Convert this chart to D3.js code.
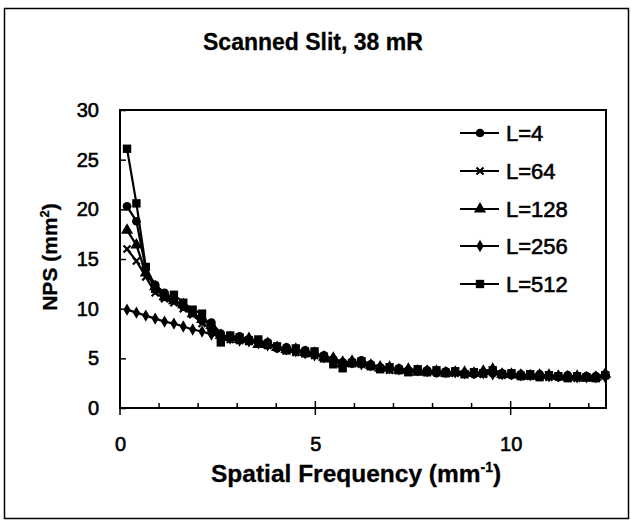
<!DOCTYPE html>
<html>
<head>
<meta charset="utf-8">
<script src="https://cdn.jsdelivr.net/npm/d3@7"></script>
<style>
  body { margin: 0; background: #fff; }
  text { font-family: "Liberation Sans", Arial, Helvetica, sans-serif; fill: #000; }
</style>
</head>
<body>
<div id="chart"></div>
<script>
// spatial frequency samples (mm^-1)
const freq = [0.18, 0.42, 0.66, 0.90, 1.14, 1.38, 1.62, 1.86, 2.10, 2.34,
  2.58, 2.82, 3.06, 3.30, 3.54, 3.78, 4.02, 4.26, 4.50, 4.74,
  4.98, 5.22, 5.46, 5.70, 5.94, 6.18, 6.42, 6.66, 6.90, 7.14,
  7.38, 7.62, 7.86, 8.10, 8.34, 8.58, 8.82, 9.06, 9.30, 9.54,
  9.78, 10.02, 10.26, 10.50, 10.74, 10.98, 11.22, 11.46, 11.70, 11.94,
  12.18, 12.42];

// NPS (mm^2) per series
const npsL4 = [20.3, 18.8, 14.0, 12.4, 11.6, 10.9, 10.2, 9.6, 8.8, 8.6,
  7.5, 7.0, 7.2, 6.9, 6.6, 6.6, 6.0, 6.1, 5.7, 5.8,
  5.4, 5.3, 4.9, 4.6, 4.5, 4.8, 4.4, 4.1, 3.9, 4.0,
  3.8, 3.7, 3.8, 3.5, 3.7, 3.6, 3.5, 3.4, 3.6, 3.5,
  3.5, 3.3, 3.4, 3.3, 3.4, 3.2, 3.1, 3.3, 3.1, 3.2,
  3.2, 3.4];
const npsL64 = [16.0, 14.8, 13.2, 11.6, 11.0, 10.6, 10.0, 9.4, 8.5, 8.1,
  7.0, 6.9, 6.8, 6.7, 6.5, 6.3, 6.2, 5.8, 5.6, 5.7,
  5.3, 5.2, 4.7, 4.4, 4.6, 4.4, 4.2, 4.0, 3.8, 3.9,
  3.7, 3.7, 3.6, 3.6, 3.6, 3.5, 3.4, 3.5, 3.4, 3.6,
  3.3, 3.4, 3.3, 3.2, 3.2, 3.1, 3.2, 3.1, 3.0, 3.1,
  3.1, 3.3];
const npsL128 = [17.9, 16.4, 13.6, 12.2, 11.2, 10.8, 10.4, 9.5, 8.9, 8.3,
  7.3, 7.1, 6.9, 7.0, 6.4, 6.5, 6.1, 5.9, 5.9, 5.6,
  5.5, 5.1, 5.0, 4.5, 4.7, 4.5, 4.3, 4.0, 4.1, 3.8,
  3.9, 3.6, 3.7, 3.7, 3.5, 3.6, 3.6, 3.5, 3.7, 3.9,
  3.4, 3.4, 3.3, 3.2, 3.3, 3.3, 3.2, 3.1, 3.2, 3.0,
  3.1, 3.4];
const npsL256 = [9.9, 9.6, 9.3, 9.0, 8.7, 8.5, 8.2, 7.9, 7.7, 7.4,
  7.2, 7.0, 6.8, 6.7, 6.5, 6.3, 6.1, 5.9, 5.7, 5.5,
  5.3, 5.1, 4.9, 4.7, 4.6, 4.4, 4.3, 4.2, 4.0, 3.9,
  3.9, 3.8, 3.7, 3.7, 3.6, 3.6, 3.5, 3.5, 3.5, 3.4,
  3.4, 3.4, 3.3, 3.3, 3.3, 3.2, 3.2, 3.2, 3.1, 3.1,
  3.1, 3.1];
const npsL512 = [26.1, 20.6, 14.2, 12.0, 11.2, 11.4, 10.6, 9.9, 9.5, 8.0,
  6.6, 7.3, 7.1, 6.8, 6.9, 6.4, 6.2, 5.8, 6.0, 5.5,
  5.7, 5.0, 4.4, 4.0, 4.5, 4.7, 4.2, 3.9, 4.1, 3.8,
  3.6, 3.9, 3.6, 3.8, 3.5, 3.7, 3.4, 3.6, 3.5, 3.8,
  3.4, 3.5, 3.2, 3.4, 3.1, 3.3, 3.2, 3.0, 3.2, 3.1,
  3.0, 3.3];

const seriesNames = ["L=4", "L=64", "L=128", "L=256", "L=512"];
const seriesValues = [npsL4, npsL64, npsL128, npsL256, npsL512];
const seriesMarkers = ["circle", "x", "triangle", "diamond", "square"];

const yTicks = [0, 5, 10, 15, 20, 25, 30];
const xMajorTicks = [0, 5, 10];
const xMinorTicks = [1, 2, 3, 4, 6, 7, 8, 9, 11, 12];

const width = 631, height = 529;
const plot = {left: 120, top: 110, right: 606, bottom: 408};

const svg = d3.select("#chart").append("svg")
  .attr("width", width)
  .attr("height", height);

// outer frame
svg.append("rect")
  .attr("x", 4.5).attr("y", 8.5)
  .attr("width", 624).attr("height", 510)
  .attr("fill", "none").attr("stroke", "#000").attr("stroke-width", 1.5);

const x = d3.scaleLinear().domain([0, 12.44]).range([plot.left, plot.right]);
const y = d3.scaleLinear().domain([0, 30]).range([plot.bottom, plot.top]);

// title
svg.append("text")
  .attr("x", 203).attr("y", 50)
  .attr("font-size", 23).attr("font-weight", "bold")
  .attr("stroke", "#000").attr("stroke-width", 0.3)
  .text("Scanned Slit, 38 mR");

// y axis (ticks pointing inward)
const yAxis = svg.append("g")
  .attr("transform", `translate(${plot.left},0)`)
  .call(d3.axisLeft(y).tickValues(yTicks).tickSizeInner(-6).tickSizeOuter(0).tickPadding(21));
yAxis.select(".domain").remove();
yAxis.selectAll(".tick line").attr("stroke-width", 1.5);
yAxis.selectAll(".tick text")
  .attr("font-size", 20).attr("font-family", null)
  .attr("stroke", "#000").attr("stroke-width", 0.6);

// x axis labels
const xAxis = svg.append("g")
  .attr("transform", `translate(0,${plot.bottom})`)
  .call(d3.axisBottom(x).tickValues(xMajorTicks).tickSize(0).tickPadding(29).tickFormat(d3.format("d")));
xAxis.select(".domain").remove();
xAxis.selectAll(".tick text")
  .attr("font-size", 20).attr("font-family", null)
  .attr("stroke", "#000").attr("stroke-width", 0.6);

// x ticks: minor inward, major crossing the axis
svg.append("g").selectAll("line.minor")
  .data(xMinorTicks).join("line")
  .attr("x1", d => x(d)).attr("x2", d => x(d))
  .attr("y1", plot.bottom).attr("y2", plot.bottom - 5)
  .attr("stroke", "#000").attr("stroke-width", 1.5);
svg.append("g").selectAll("line.major")
  .data(xMajorTicks).join("line")
  .attr("x1", d => x(d)).attr("x2", d => x(d))
  .attr("y1", plot.bottom - 7).attr("y2", plot.bottom + 7)
  .attr("stroke", "#000").attr("stroke-width", 1.5);

// plot frame
svg.append("rect")
  .attr("x", plot.left).attr("y", plot.top)
  .attr("width", plot.right - plot.left).attr("height", plot.bottom - plot.top)
  .attr("fill", "none").attr("stroke", "#000").attr("stroke-width", 2);

// axis titles
const yTitle = svg.append("text")
  .attr("transform", "translate(57,257) rotate(-90)")
  .attr("text-anchor", "middle")
  .attr("font-size", 21).attr("font-weight", "bold")
  .attr("stroke", "#000").attr("stroke-width", 0.3);
yTitle.append("tspan").text("NPS (mm");
yTitle.append("tspan").attr("font-size", 13).attr("dy", -8).text("2");
yTitle.append("tspan").attr("dy", 8).text(")");

const xTitle = svg.append("text")
  .attr("x", 211).attr("y", 482)
  .attr("font-size", 24.5).attr("font-weight", "bold")
  .attr("stroke", "#000").attr("stroke-width", 0.3);
xTitle.append("tspan").text("Spatial Frequency (mm");
xTitle.append("tspan").attr("font-size", 14).attr("dy", -10).text("-1");
xTitle.append("tspan").attr("dy", 10).text(")");

// marker drawing
function drawMarker(sel, kind) {
  if (kind === "x") {
    sel.append("path")
      .attr("d", "M-3.5,-3.5L3.5,3.5M-3.5,3.5L3.5,-3.5")
      .attr("stroke", "#000").attr("stroke-width", 2.2).attr("fill", "none");
    return;
  }
  const types = {circle: [d3.symbolCircle, 60], triangle: [d3.symbolTriangle, 64],
    diamond: [d3.symbolDiamond, 44], square: [d3.symbolSquare, 70]};
  sel.append("path")
    .attr("d", d3.symbol().type(types[kind][0]).size(types[kind][1])())
    .attr("fill", "#000");
}

const line = d3.line()
  .x(d => x(d[0]))
  .y(d => y(d[1]));

const plotG = svg.append("g");
seriesValues.forEach((vals, i) => {
  const pts = freq.map((f, j) => [f, vals[j]]);
  plotG.append("path")
    .datum(pts)
    .attr("d", line)
    .attr("fill", "none").attr("stroke", "#000").attr("stroke-width", 2.2);
  plotG.append("g").selectAll("g")
    .data(pts).join("g")
    .attr("transform", d => `translate(${x(d[0])},${y(d[1])})`)
    .each(function () { drawMarker(d3.select(this), seriesMarkers[i]); });
});

// legend
const legendRows = [133, 171, 209, 246, 284];
const legend = svg.append("g");
seriesNames.forEach((name, i) => {
  const g = legend.append("g").attr("transform", `translate(0,${legendRows[i]})`);
  g.append("line")
    .attr("x1", 460).attr("x2", 499)
    .attr("stroke", "#000").attr("stroke-width", 1.8);
  drawMarker(g.append("g").attr("transform", "translate(480,0)"), seriesMarkers[i]);
  g.append("text")
    .attr("x", 506).attr("y", 8)
    .attr("font-size", 22)
    .attr("stroke", "#000").attr("stroke-width", 0.6)
    .text(name);
});
</script>
</body>
</html>
